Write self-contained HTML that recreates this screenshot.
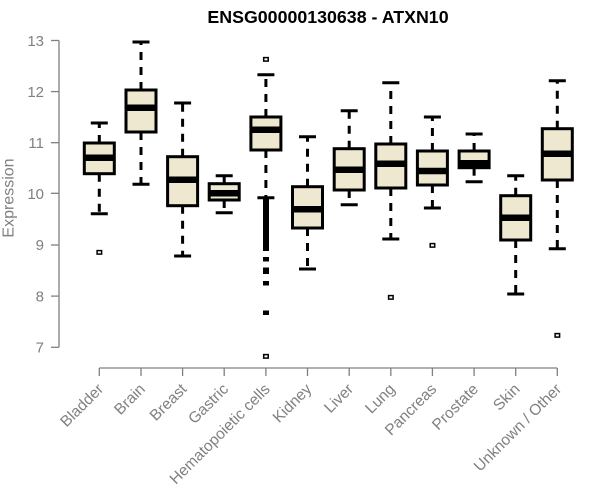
<!DOCTYPE html>
<html>
<head>
<meta charset="utf-8">
<style>
html,body{margin:0;padding:0;background:#fff;}
svg{display:block;}
text{font-family:"Liberation Sans",Arial,sans-serif;}
</style>
</head>
<body>
<svg width="600" height="500" viewBox="0 0 600 500" xmlns="http://www.w3.org/2000/svg">
<rect width="600" height="500" fill="#fff"/>
<!-- Title -->
<text x="328" y="23" text-anchor="middle" font-size="17.8" font-weight="bold" fill="#000">ENSG00000130638 - ATXN10</text>

<!-- Y axis -->
<g stroke="#808080" stroke-width="1.3" fill="none">
<line x1="59" y1="40.5" x2="59" y2="347.3"/>
<line x1="51" y1="40.5" x2="59" y2="40.5"/>
<line x1="51" y1="91.6" x2="59" y2="91.6"/>
<line x1="51" y1="142.7" x2="59" y2="142.7"/>
<line x1="51" y1="193.3" x2="59" y2="193.3"/>
<line x1="51" y1="245" x2="59" y2="245"/>
<line x1="51" y1="296.1" x2="59" y2="296.1"/>
<line x1="51" y1="347.3" x2="59" y2="347.3"/>
</g>
<g font-size="15" fill="#808080" text-anchor="end">
<text x="44" y="46">13</text>
<text x="44" y="97">12</text>
<text x="44" y="148">11</text>
<text x="44" y="199">10</text>
<text x="44" y="250">9</text>
<text x="44" y="301.5">8</text>
<text x="44" y="352.5">7</text>
</g>
<text transform="translate(13.5,198) rotate(-90)" text-anchor="middle" font-size="16" fill="#808080">Expression</text>

<!-- X axis -->
<g stroke="#808080" stroke-width="1.3" fill="none">
<line x1="99.3" y1="368" x2="557.3" y2="368"/>
<line x1="99.3" y1="368" x2="99.3" y2="376"/>
<line x1="141" y1="368" x2="141" y2="376"/>
<line x1="182.6" y1="368" x2="182.6" y2="376"/>
<line x1="224.2" y1="368" x2="224.2" y2="376"/>
<line x1="265.9" y1="368" x2="265.9" y2="376"/>
<line x1="307.5" y1="368" x2="307.5" y2="376"/>
<line x1="349.2" y1="368" x2="349.2" y2="376"/>
<line x1="390.8" y1="368" x2="390.8" y2="376"/>
<line x1="432.4" y1="368" x2="432.4" y2="376"/>
<line x1="474.1" y1="368" x2="474.1" y2="376"/>
<line x1="515.7" y1="368" x2="515.7" y2="376"/>
<line x1="557.3" y1="368" x2="557.3" y2="376"/>
</g>
<g font-size="15.5" fill="#808080" text-anchor="end">
<text transform="translate(104.3,390) rotate(-45)">Bladder</text>
<text transform="translate(146,390) rotate(-45)">Brain</text>
<text transform="translate(187.6,390) rotate(-45)">Breast</text>
<text transform="translate(229.2,390) rotate(-45)">Gastric</text>
<text transform="translate(270.9,390) rotate(-45)">Hematopoietic cells</text>
<text transform="translate(312.5,390) rotate(-45)">Kidney</text>
<text transform="translate(354.2,390) rotate(-45)">Liver</text>
<text transform="translate(395.8,390) rotate(-45)">Lung</text>
<text transform="translate(437.4,390) rotate(-45)">Pancreas</text>
<text transform="translate(479.1,390) rotate(-45)">Prostate</text>
<text transform="translate(520.7,390) rotate(-45)">Skin</text>
<text transform="translate(562.3,390) rotate(-45)">Unknown / Other</text>
</g>

<!-- Whiskers (dashed) -->
<g stroke="#000" stroke-width="3" stroke-dasharray="8,7" fill="none">
<line x1="99.3" y1="143" x2="99.3" y2="123"/><line x1="99.3" y1="173.7" x2="99.3" y2="213.7"/>
<line x1="141" y1="90" x2="141" y2="42"/><line x1="141" y1="132" x2="141" y2="184.3"/>
<line x1="182.6" y1="156.7" x2="182.6" y2="103"/><line x1="182.6" y1="205.7" x2="182.6" y2="256"/>
<line x1="224.2" y1="183.7" x2="224.2" y2="175.7"/><line x1="224.2" y1="200" x2="224.2" y2="212.7"/>
<line x1="265.9" y1="117" x2="265.9" y2="74.7"/><line x1="265.9" y1="150" x2="265.9" y2="197.7"/>
<line x1="307.5" y1="186.7" x2="307.5" y2="136.7"/><line x1="307.5" y1="228" x2="307.5" y2="269"/>
<line x1="349.2" y1="148.7" x2="349.2" y2="110.7"/><line x1="349.2" y1="190" x2="349.2" y2="204.7"/>
<line x1="390.8" y1="144" x2="390.8" y2="82.7"/><line x1="390.8" y1="188" x2="390.8" y2="239"/>
<line x1="432.4" y1="151" x2="432.4" y2="117"/><line x1="432.4" y1="185" x2="432.4" y2="208"/>
<line x1="474.1" y1="151" x2="474.1" y2="134"/><line x1="474.1" y1="167.7" x2="474.1" y2="181.7"/>
<line x1="515.7" y1="195.7" x2="515.7" y2="175.7"/><line x1="515.7" y1="240" x2="515.7" y2="294"/>
<line x1="557.3" y1="128.7" x2="557.3" y2="80.7"/><line x1="557.3" y1="180" x2="557.3" y2="248.7"/>
</g>
<!-- Caps -->
<g stroke="#000" stroke-width="3" fill="none">
<line x1="90.8" y1="123" x2="107.8" y2="123"/><line x1="90.8" y1="213.7" x2="107.8" y2="213.7"/>
<line x1="132.5" y1="42" x2="149.5" y2="42"/><line x1="132.5" y1="184.3" x2="149.5" y2="184.3"/>
<line x1="174.1" y1="103" x2="191.1" y2="103"/><line x1="174.1" y1="256" x2="191.1" y2="256"/>
<line x1="215.7" y1="175.7" x2="232.7" y2="175.7"/><line x1="215.7" y1="212.7" x2="232.7" y2="212.7"/>
<line x1="257.4" y1="74.7" x2="274.4" y2="74.7"/><line x1="257.4" y1="197.7" x2="274.4" y2="197.7"/>
<line x1="299" y1="136.7" x2="316" y2="136.7"/><line x1="299" y1="269" x2="316" y2="269"/>
<line x1="340.7" y1="110.7" x2="357.7" y2="110.7"/><line x1="340.7" y1="204.7" x2="357.7" y2="204.7"/>
<line x1="382.3" y1="82.7" x2="399.3" y2="82.7"/><line x1="382.3" y1="239" x2="399.3" y2="239"/>
<line x1="423.9" y1="117" x2="440.9" y2="117"/><line x1="423.9" y1="208" x2="440.9" y2="208"/>
<line x1="465.6" y1="134" x2="482.6" y2="134"/><line x1="465.6" y1="181.7" x2="482.6" y2="181.7"/>
<line x1="507.2" y1="175.7" x2="524.2" y2="175.7"/><line x1="507.2" y1="294" x2="524.2" y2="294"/>
<line x1="548.8" y1="80.7" x2="565.8" y2="80.7"/><line x1="548.8" y1="248.7" x2="565.8" y2="248.7"/>
</g>
<!-- Boxes -->
<g stroke="#000" stroke-width="3" fill="#EEE8D0">
<rect x="84.3" y="143" width="30" height="30.7"/>
<rect x="126" y="90" width="30" height="42"/>
<rect x="167.6" y="156.7" width="30" height="49"/>
<rect x="209.2" y="183.7" width="30" height="16.3"/>
<rect x="250.9" y="117" width="30" height="33"/>
<rect x="292.5" y="186.7" width="30" height="41.3"/>
<rect x="334.2" y="148.7" width="30" height="41.3"/>
<rect x="375.8" y="144" width="30" height="44"/>
<rect x="417.4" y="151" width="30" height="34"/>
<rect x="459.1" y="151" width="30" height="16.7"/>
<rect x="500.7" y="195.7" width="30" height="44.3"/>
<rect x="542.3" y="128.7" width="30" height="51.3"/>
</g>
<!-- Medians -->
<g stroke="#000" stroke-width="6.5" fill="none">
<line x1="84.3" y1="157.7" x2="114.3" y2="157.7"/>
<line x1="126" y1="107.7" x2="156" y2="107.7"/>
<line x1="167.6" y1="179.7" x2="197.6" y2="179.7"/>
<line x1="209.2" y1="193.3" x2="239.2" y2="193.3"/>
<line x1="250.9" y1="129.7" x2="280.9" y2="129.7"/>
<line x1="292.5" y1="209.3" x2="322.5" y2="209.3"/>
<line x1="334.2" y1="169.7" x2="364.2" y2="169.7"/>
<line x1="375.8" y1="163.7" x2="405.8" y2="163.7"/>
<line x1="417.4" y1="171" x2="447.4" y2="171"/>
<line x1="459.1" y1="163.3" x2="489.1" y2="163.3"/>
<line x1="500.7" y1="217.7" x2="530.7" y2="217.7"/>
<line x1="542.3" y1="153.7" x2="572.3" y2="153.7"/>
</g>
<!-- Outliers -->
<g stroke="#000" stroke-width="1.5" fill="#fff">
<rect x="97.1" y="250.6" width="4.5" height="3.5"/>
<rect x="263.7" y="57.6" width="4.5" height="3.5"/>
<rect x="263.7" y="354.6" width="4.5" height="3.5"/>
<rect x="388.6" y="295.6" width="4.5" height="3.5"/>
<rect x="430.2" y="243.6" width="4.5" height="3.5"/>
<rect x="555.1" y="333.6" width="4.5" height="3.5"/>
</g>
<g fill="#000">
<rect x="263" y="198" width="6" height="53"/>
<rect x="263" y="257" width="6" height="4.5"/>
<rect x="263" y="267.5" width="6" height="6.5"/>
<rect x="263" y="281" width="6" height="4.5"/>
<rect x="263" y="310.5" width="6" height="4.5"/>
</g>
</svg>
</body>
</html>
